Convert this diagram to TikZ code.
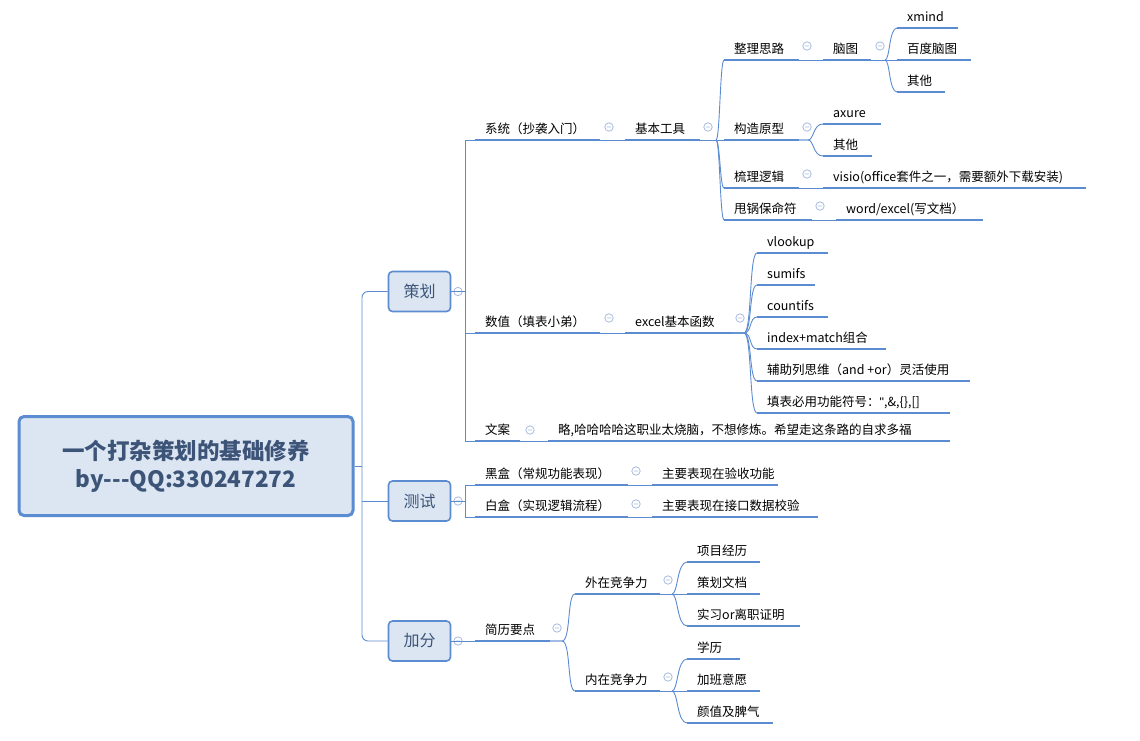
\documentclass[tikz,border=0pt]{standalone}
\usepackage{fontspec}
\setmainfont{Noto Sans CJK SC}
\newfontfamily\lat{Liberation Sans}
\definecolor{bl}{HTML}{5B8BD0}
\definecolor{cl}{HTML}{A9BCE0}
\definecolor{bf}{HTML}{DCE6F2}
\definecolor{tx}{HTML}{3C5478}
\usetikzlibrary{calc}
\tikzset{
 ul/.style={bl,line width=2.6pt},
 conn/.style={bl,line width=0.9pt},
 txt/.style={font=\fontsize{12.5}{14}\selectfont,inner sep=0pt,anchor=base west},
 mainbox/.style={draw=bl,fill=bf,line width=1.6pt,rounded corners=4pt,font=\fontsize{16}{18}\selectfont,text=tx},
}
\newcommand\lf[5]{%
 \coordinate (#1-s) at (#2,#4); \coordinate (#1-e) at (#3,#4);
 \draw[ul] (#1-s)--(#1-e);
 \node[txt] (#1) at (#2+10,#4-7) {#5};}
\newcommand\cc[2]{\draw[cl,line width=0.8pt,fill=white] (#1,#2) circle (4.2) (#1-2.2,#2)--(#1+2.2,#2);}
\begin{document}
\begin{tikzpicture}[x=1pt,y=-1pt]
\useasboundingbox (0,0) rectangle (1140,740);
% central
\node[draw=bl,fill=bf,line width=3pt,rounded corners=5pt,minimum width=334,minimum height=99,align=center,font=\bfseries\fontsize{22.5}{28}\selectfont,text=tx] (root) at (186,466) {一个打杂策划的基础修养\\by{-}{-}{-}QQ:330247272};
\node[mainbox,minimum width=62,minimum height=40] (ch) at (419.5,291.5) {策划};
\node[mainbox,minimum width=62,minimum height=40] (cs) at (419.5,501) {测试};
\node[mainbox,minimum width=62,minimum height=40] (jf) at (419.5,641) {加分};
\draw[conn,rounded corners=6pt] (ch.west) -| (362,466) |- (jf.west);
\draw[conn] (root.east) -- (362,466);
\draw[conn] (362,501) -- (cs.west);
\cc{458}{291.5}\cc{458}{501}\cc{458}{641}
% 策划
\lf{xt}{475}{600}{140}{系统（抄袭入门）}
\lf{sz}{475}{600}{333}{数值（填表小弟）}
\lf{wa}{475}{520}{441}{文案}
\draw[conn] (ch.east) -- (465,291.5);
\draw[conn] (xt-s) -| (465,441) -- (wa-s);
\draw[conn] (465,333) -- (sz-s);
\cc{609}{127}\cc{609}{318}\cc{530}{430}
\lf{jb}{625}{700}{140}{基本工具}
\draw[conn] (xt-e)--(jb-s);
\cc{708}{127}
\lf{zl}{724}{799}{60}{整理思路}
\lf{gz}{724}{799}{140}{构造原型}
\lf{sl}{724}{799}{188}{梳理逻辑}
\lf{sg}{724}{812}{220}{甩锅保命符}
\draw[conn] (jb-e)--(gz-s);
\foreach \c/\yy in {zl/60,sl/188,sg/220}{\draw[conn] (716,140) .. controls (720,140) and (720,\yy) .. (\c-s);}
\cc{807}{46}\cc{807}{127}\cc{807}{174}\cc{820}{206}
\lf{nt}{823}{871}{60}{脑图}
\draw[conn] (zl-e)--(nt-s);
\cc{880}{46}
\lf{xm}{897}{958}{28}{xmind}
\lf{bd}{897}{971}{60}{百度脑图}
\lf{qt}{897}{945}{92}{其他}
\draw[conn] (nt-e)--(bd-s);
\foreach \c/\yy in {xm/28,qt/92}{\draw[conn] (885,60) .. controls (890,60) and (889,\yy) .. (\c-s);}
\lf{ax}{823}{881}{124}{axure}
\lf{qt2}{823}{872}{156}{其他}
\foreach \c/\yy in {ax/124,qt2/156}{\draw[conn] (gz-e) -- (808,140) .. controls (814,140) and (813,\yy) .. (\c-s);}
\lf{vs}{823}{1086}{188}{visio(office套件之一，需要额外下载安装)}
\draw[conn] (sl-e)--(vs-s);
\lf{we}{836}{983}{220}{word/excel(写文档）}
\draw[conn] (sg-e)--(we-s);
% excel
\lf{ex}{625}{732}{333}{excel基本函数}
\draw[conn] (sz-e)--(ex-s);
\cc{740}{318}
\lf{f1}{757}{828}{253}{vlookup}
\lf{f2}{757}{815}{285}{sumifs}
\lf{f3}{757}{828}{317}{countifs}
\lf{f4}{757}{886}{349}{index+match组合}
\lf{f5}{757}{970}{381}{辅助列思维（and +or）灵活使用}
\lf{f6}{757}{950}{413}{填表必用功能符号：{\lat\char"22},\&,\{\},[]}
\foreach \c/\yy in {f1/253,f2/285,f3/317,f4/349,f5/381,f6/413}{\draw[conn] (ex-e) -- (744,333) .. controls (752,333) and (749,\yy) .. (\c-s);}
\lf{le}{548}{950}{441}{略,哈哈哈哈这职业太烧脑，不想修炼。希望走这条路的自求多福}
\draw[conn] (wa-e)--(le-s);
% 测试
\lf{hh}{475}{628}{485}{黑盒（常规功能表现）}
\lf{bh}{475}{628}{517}{白盒（实现逻辑流程）}
\draw[conn] (cs.east) -- (465,501);
\draw[conn] (hh-s) -| (465,517) -- (bh-s);
\cc{636}{471}\cc{636}{504}
\lf{ys}{652}{778}{485}{主要表现在验收功能}
\lf{jk}{652}{818}{517}{主要表现在接口数据校验}
\draw[conn] (hh-e)--(ys-s); \draw[conn] (bh-e)--(jk-s);
% 加分
\lf{jl}{475}{550}{641}{简历要点}
\draw[conn] (jf.east)--(jl-s);
\cc{557}{628}
\lf{wz}{575}{660}{594}{外在竞争力}
\lf{nz}{575}{660}{691}{内在竞争力}
\foreach \c/\yy in {wz/594,nz/691}{\draw[conn] (jl-e) -- (562,641) .. controls (571,641) and (567,\yy) .. (\c-s);}
\cc{668}{580}\cc{668}{677}
\lf{a1}{687}{760}{562}{项目经历}
\lf{a2}{687}{760}{594}{策划文档}
\lf{a3}{687}{800}{626}{实习or离职证明}
\lf{b1}{687}{740}{659}{学历}
\lf{b2}{687}{760}{691}{加班意愿}
\lf{b3}{687}{773}{723}{颜值及脾气}
\draw[conn] (wz-e)--(a2-s); \draw[conn] (nz-e)--(b2-s);
\foreach \c/\yy in {a1/562,a3/626}{\draw[conn] (672,594) .. controls (678,594) and (677,\yy) .. (\c-s);}
\foreach \c/\yy in {b1/659,b3/723}{\draw[conn] (672,691) .. controls (678,691) and (677,\yy) .. (\c-s);}
\end{tikzpicture}
\end{document}
